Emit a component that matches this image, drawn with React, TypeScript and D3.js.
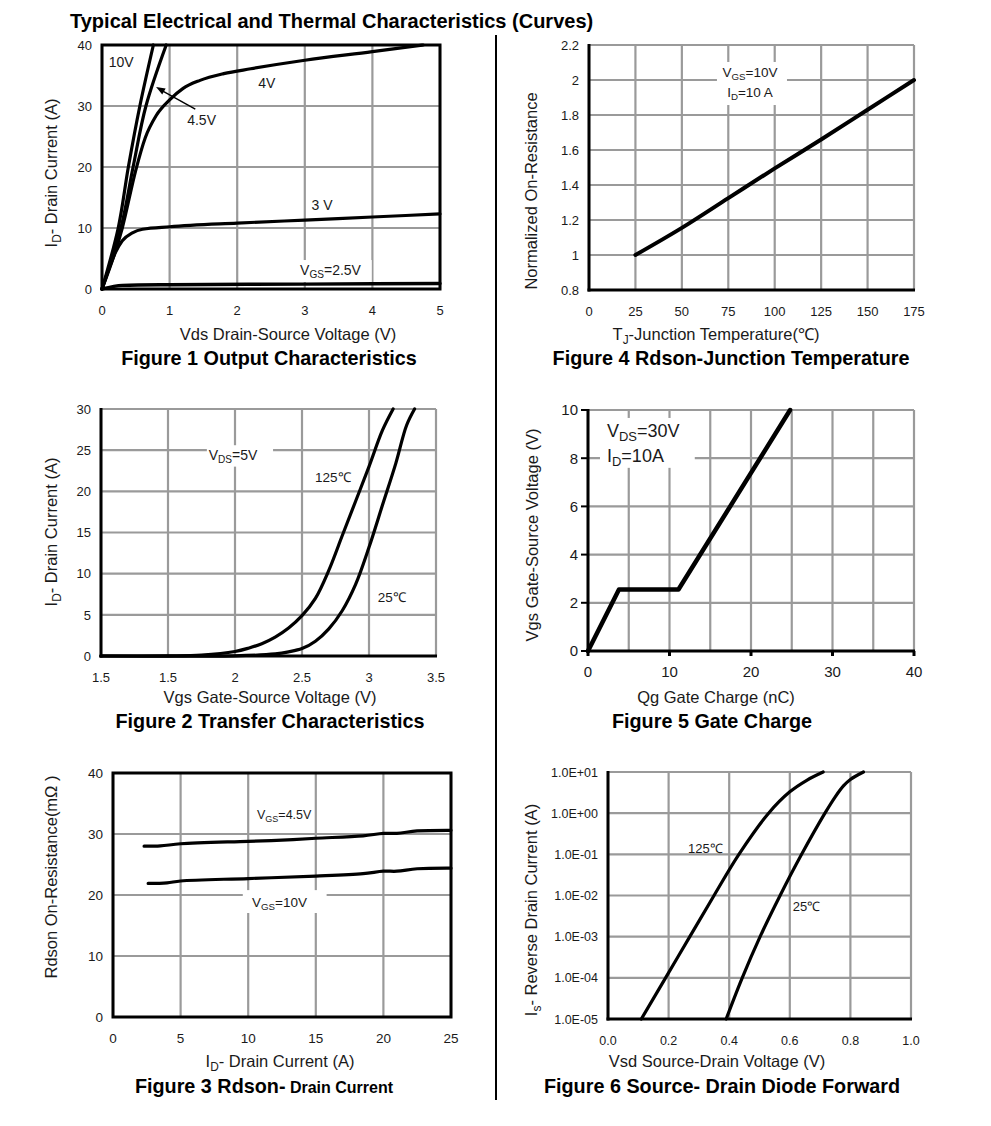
import React from 'react';
import * as d3 from 'd3';

type Pt = [number, number];

// ---------- Figure 1: Output Characteristics ----------
const fig1XTicks = [0, 1, 2, 3, 4, 5];
const fig1YTicks = [0, 10, 20, 30, 40];
const fig1Vgs10: Pt[] = [[0, 0], [0.24, 10], [0.39, 20], [0.56, 30], [0.76, 40]];
const fig1Vgs45: Pt[] = [[0, 0], [0.28, 10], [0.46, 20], [0.65, 30], [0.95, 40]];
const fig1Vgs4: Pt[] = [[0, 0], [0.3, 10], [0.5, 19.5], [0.64, 24.8], [0.8, 28.4], [1.0, 31.0], [1.2, 32.9], [1.45, 34.2], [1.8, 35.3], [2.2, 36.1], [3, 37.5], [4, 38.9], [4.75, 40]];
const fig1Vgs3: Pt[] = [[0, 0], [0.1, 3.2], [0.2, 6], [0.3, 7.9], [0.45, 9.2], [0.6, 9.8], [1, 10.2], [2, 10.8], [3, 11.3], [4, 11.8], [5, 12.3]];
const fig1Vgs25: Pt[] = [[0, 0], [0.3, 0.6], [1, 0.7], [3, 0.8], [5, 0.9]];

// ---------- Figure 4: Rdson vs Junction Temperature ----------
const fig4XTicks = [0, 25, 50, 75, 100, 125, 150, 175];
const fig4YTicks = [0.8, 1.0, 1.2, 1.4, 1.6, 1.8, 2.0, 2.2];
const fig4YLabels = ['0.8', '1', '1.2', '1.4', '1.6', '1.8', '2', '2.2'];
const fig4Rdson: Pt[] = [[25, 1.0], [50, 1.155], [75, 1.325], [100, 1.495], [125, 1.66], [150, 1.83], [175, 2.0]];

// ---------- Figure 2: Transfer Characteristics ----------
const fig2XTicks = [1.0, 1.5, 2.0, 2.5, 3.0, 3.5];
const fig2XLabels = ['1.5', '1.5', '2', '2.5', '3', '3.5'];
const fig2YTicks = [0, 5, 10, 15, 20, 25, 30];
const fig2T125: Pt[] = [[1.0, 0], [1.5, 0.02], [1.75, 0.12], [2.0, 0.55], [2.1, 0.95], [2.2, 1.5], [2.3, 2.3], [2.4, 3.4], [2.5, 4.9], [2.6, 7.0], [2.7, 10.4], [2.8, 14.6], [2.9, 18.8], [3.0, 23.0], [3.1, 27.4], [3.18, 30]];
const fig2T25: Pt[] = [[1.0, 0], [2.0, 0.02], [2.3, 0.25], [2.4, 0.5], [2.5, 0.9], [2.6, 1.8], [2.7, 3.3], [2.8, 5.5], [2.9, 8.7], [3.0, 13.2], [3.1, 18.3], [3.2, 23.4], [3.28, 28.0], [3.34, 30]];

// ---------- Figure 5: Gate Charge ----------
const fig5XGrid = [0, 5, 10, 15, 20, 25, 30, 35, 40];
const fig5XTicks = [0, 10, 20, 30, 40];
const fig5YTicks = [0, 2, 4, 6, 8, 10];
const fig5Vgs: Pt[] = [[0, 0], [3.8, 2.55], [11.1, 2.55], [24.8, 10]];

// ---------- Figure 3: Rdson vs Drain Current ----------
const fig3XTicks = [0, 5, 10, 15, 20, 25];
const fig3YTicks = [0, 10, 20, 30, 40];
const fig3Vgs45: Pt[] = [[2.3, 28], [3.5, 28.05], [5, 28.4], [10, 28.8], [12.5, 29], [15, 29.3], [18.5, 29.7], [20, 30.1], [21, 30.1], [22.5, 30.5], [25, 30.6]];
const fig3Vgs10: Pt[] = [[2.6, 21.9], [4, 22], [5, 22.3], [10, 22.7], [15, 23.1], [18.5, 23.5], [20, 23.9], [21, 23.9], [22.5, 24.3], [25, 24.4]];

// ---------- Figure 6: Source-Drain Diode Forward ----------
const fig6XTicks = [0, 0.2, 0.4, 0.6, 0.8, 1.0];
const fig6XLabels = ['0.0', '0.2', '0.4', '0.6', '0.8', '1.0'];
const fig6YTicks = [1e-5, 1e-4, 1e-3, 1e-2, 1e-1, 1e0, 1e1];
const fig6YLabels = ['1.0E-05', '1.0E-04', '1.0E-03', '1.0E-02', '1.0E-01', '1.0E+00', '1.0E+01'];
const fig6T125: Pt[] = [[0.11, 1e-5], [0.19, 1e-4], [0.27, 1e-3], [0.35, 1e-2], [0.432, 1e-1], [0.53, 1], [0.6, 3.3], [0.656, 6.3], [0.71, 10]];
const fig6T25: Pt[] = [[0.39, 1e-5], [0.443, 1e-4], [0.502, 1e-3], [0.568, 1e-2], [0.639, 1e-1], [0.716, 1], [0.75, 2.5], [0.777, 4.6], [0.8, 6.6], [0.843, 10]];

const FONT = '"Liberation Sans", Arial, Helvetica, sans-serif';
const GRID = '#9a9a9a';
const TXT = '#1a1a1a';

type Part = [string, boolean];

function SubText(props: { x: number; y: number; parts: Part[]; size: number; anchor?: string; weight?: string; transform?: string }) {
  const { x, y, parts, size, anchor = 'start', weight = 'normal', transform } = props;
  let cur = 0;
  return (
    <text x={x} y={y} fontSize={size} textAnchor={anchor} fontWeight={weight} fill={TXT} fontFamily={FONT} transform={transform}>
      {parts.map(([s, sub], i) => {
        const target = sub ? size * 0.22 : 0;
        const dy = target - cur;
        cur = target;
        return (
          <tspan key={i} dy={dy} fontSize={sub ? size * 0.72 : size}>
            {s}
          </tspan>
        );
      })}
    </text>
  );
}

interface Series { data: Pt[]; width: number; curve?: any }

interface PanelProps {
  box: { l: number; t: number; r: number; b: number };
  xDomain: [number, number];
  yDomain: [number, number];
  yLog?: boolean;
  xGrid: number[];
  yGrid: number[];
  xTicks: number[];
  xLabels: string[];
  yTicks: number[];
  yLabels: string[];
  tickSize: number;
  frame: 'all' | 'lb';
  tickMarks?: boolean;
  series: Series[];
  annotate?: (x: any, y: any) => React.ReactNode;
}

const smooth = d3.curveCatmullRom.alpha(0.5);

function Panel(p: PanelProps) {
  const { box } = p;
  const x = d3.scaleLinear().domain(p.xDomain).range([box.l, box.r]);
  const y = (p.yLog ? d3.scaleLog() : d3.scaleLinear()).domain(p.yDomain).range([box.b, box.t]);
  return (
    <g>
      {p.xGrid.map((v, i) => (
        <line key={'gx' + i} x1={x(v)} x2={x(v)} y1={box.t} y2={box.b} stroke={GRID} strokeWidth={2.2} />
      ))}
      {p.yGrid.map((v, i) => (
        <line key={'gy' + i} x1={box.l} x2={box.r} y1={y(v)} y2={y(v)} stroke={GRID} strokeWidth={2.2} />
      ))}
      {p.annotate ? p.annotate(x, y) : null}
      {p.series.map((s, i) => {
        const line = d3
          .line<Pt>()
          .x((d) => x(d[0]))
          .y((d) => y(d[1]))
          .curve(s.curve || smooth);
        return <path key={'s' + i} d={line(s.data) || ''} fill="none" stroke="#000" strokeWidth={s.width} strokeLinejoin="round" strokeLinecap="round" />;
      })}
      {p.frame === 'all' ? (
        <rect x={box.l} y={box.t} width={box.r - box.l} height={box.b - box.t} fill="none" stroke="#000" strokeWidth={3} />
      ) : (
        <g>
          <line x1={box.l} x2={box.l} y1={box.t - 1} y2={box.b + 1.5} stroke="#000" strokeWidth={3} />
          <line x1={box.l - 1.5} x2={box.r + 1} y1={box.b} y2={box.b} stroke="#000" strokeWidth={3} />
        </g>
      )}
      {p.tickMarks ? (
        <g>
          {p.xTicks.map((v, i) => (
            <line key={'tx' + i} x1={x(v)} x2={x(v)} y1={box.b} y2={box.b + 5} stroke="#000" strokeWidth={3} />
          ))}
          {p.yTicks.map((v, i) => (
            <line key={'ty' + i} x1={box.l - 7} x2={box.l} y1={y(v)} y2={y(v)} stroke="#000" strokeWidth={2} />
          ))}
        </g>
      ) : null}
      {p.xTicks.map((v, i) => (
        <text key={'lx' + i} x={x(v)} y={box.b + 25.5} fontSize={p.tickSize} textAnchor="middle" fill={TXT} fontFamily={FONT}>
          {p.xLabels[i]}
        </text>
      ))}
      {p.yTicks.map((v, i) => (
        <text key={'ly' + i} x={box.l - 10} y={y(v) + p.tickSize * 0.36} fontSize={p.tickSize} textAnchor="end" fill={TXT} fontFamily={FONT}>
          {p.yLabels[i]}
        </text>
      ))}
    </g>
  );
}

function WhiteBox(props: { x: any; y: any; x0: number; x1: number; y0: number; y1: number }) {
  const { x, y, x0, x1, y0, y1 } = props;
  const a = x(x0), b = x(x1), c = y(y0), d = y(y1);
  return <rect x={Math.min(a, b)} y={Math.min(c, d)} width={Math.abs(b - a)} height={Math.abs(d - c)} fill="#fff" />;
}

function Label(props: { x: number; y: number; text: string; size: number; anchor?: string }) {
  return (
    <text x={props.x} y={props.y} fontSize={props.size} textAnchor={props.anchor || 'start'} fill={TXT} fontFamily={FONT}>
      {props.text}
    </text>
  );
}

const CAP = 19.8;
const TITLE = 20;
const AX = 16.5;
const TICK = 13;

export default function App() {
  return (
    <svg width={991} height={1126} style={{ position: 'absolute', left: 0, top: 0, background: '#fff' }} fontFamily={FONT}>
      <rect x={0} y={0} width={991} height={1126} fill="#fff" />
      <text x={70} y={28} fontSize={TITLE} fontWeight="bold" fill="#000">
        Typical Electrical and Thermal Characteristics (Curves)
      </text>
      <line x1={496} x2={496} y1={35} y2={1100} stroke="#000" strokeWidth={2} />

      {/* Figure 1 */}
      <Panel
        box={{ l: 102, t: 45, r: 440, b: 289 }}
        xDomain={[0, 5]}
        yDomain={[0, 40]}
        xGrid={fig1XTicks}
        yGrid={fig1YTicks}
        xTicks={fig1XTicks}
        xLabels={fig1XTicks.map(String)}
        yTicks={fig1YTicks}
        yLabels={fig1YTicks.map(String)}
        tickSize={TICK}
        frame="all"
        series={[
          { data: fig1Vgs10, width: 3.2 },
          { data: fig1Vgs45, width: 3.2 },
          { data: fig1Vgs4, width: 3.2, curve: d3.curveMonotoneX },
          { data: fig1Vgs3, width: 3.2, curve: d3.curveMonotoneX },
          { data: fig1Vgs25, width: 3.4, curve: d3.curveMonotoneX },
        ]}
        annotate={(x, y) => (
          <g>
            <Label x={x(0.1)} y={y(36.4)} text="10V" size={14} />
            <Label x={x(2.31)} y={y(33.0)} text="4V" size={14} />
            <Label x={x(1.26)} y={y(26.9)} text="4.5V" size={14} />
            <Label x={x(3.1)} y={y(12.95)} text="3 V" size={14} />
            <WhiteBox x={x} y={y} x0={2.88} x1={3.99} y0={1.15} y1={4.75} />
            <SubText x={x(2.93)} y={y(2.3)} size={14} parts={[['V', false], ['GS', true], ['=2.5V', false]]} />
            <line x1={x(1.38)} y1={y(29.5)} x2={x(0.86)} y2={y(32.7)} stroke="#000" strokeWidth={1.4} />
            <path
              d={(() => {
                const x1 = x(0.8), y1 = y(33.1), x0 = x(1.38), y0 = y(29.5);
                const ang = Math.atan2(y1 - y0, x1 - x0);
                const L = 9, W = 3.5;
                const bx = x1 - L * Math.cos(ang), by = y1 - L * Math.sin(ang);
                return `M${x1},${y1}L${bx + W * Math.sin(ang)},${by - W * Math.cos(ang)}L${bx - W * Math.sin(ang)},${by + W * Math.cos(ang)}Z`;
              })()}
              fill="#000"
            />
          </g>
        )}
      />
      <SubText x={57} y={173} size={AX} anchor="middle" transform="rotate(-90 57 173)" parts={[['I', false], ['D', true], ['- Drain Current (A)', false]]} />
      <text x={288} y={340} fontSize={AX} textAnchor="middle" fill={TXT}>Vds Drain-Source Voltage (V)</text>
      <text x={269} y={365} fontSize={CAP} fontWeight="bold" textAnchor="middle" fill="#000">Figure 1 Output Characteristics</text>

      {/* Figure 4 */}
      <Panel
        box={{ l: 589, t: 45, r: 914, b: 290 }}
        xDomain={[0, 175]}
        yDomain={[0.8, 2.2]}
        xGrid={fig4XTicks}
        yGrid={fig4YTicks}
        xTicks={fig4XTicks}
        xLabels={fig4XTicks.map(String)}
        yTicks={fig4YTicks}
        yLabels={fig4YLabels}
        tickSize={TICK}
        frame="lb"
        series={[{ data: fig4Rdson, width: 4 }]}
        annotate={(x, y) => (
          <g>
            <WhiteBox x={x} y={y} x0={68.9} x1={106.6} y0={1.857} y1={2.103} />
            <SubText x={x(86.7)} y={y(2.017)} size={13.5} anchor="middle" parts={[['V', false], ['GS', true], ['=10V', false]]} />
            <SubText x={x(86.7)} y={y(1.903)} size={13.5} anchor="middle" parts={[['I', false], ['D', true], ['=10 A', false]]} />
          </g>
        )}
      />
      <text x={537} y={191} fontSize={AX} textAnchor="middle" fill={TXT} transform="rotate(-90 537 191)">Normalized On-Resistance</text>
      <SubText x={716} y={340} size={AX} anchor="middle" parts={[['T', false], ['J', true], ['-Junction Temperature(℃)', false]]} />
      <text x={731} y={365} fontSize={CAP} fontWeight="bold" textAnchor="middle" fill="#000">Figure 4 Rdson-Junction Temperature</text>

      {/* Figure 2 */}
      <Panel
        box={{ l: 101, t: 409, r: 436, b: 656 }}
        xDomain={[1.0, 3.5]}
        yDomain={[0, 30]}
        xGrid={fig2XTicks}
        yGrid={fig2YTicks}
        xTicks={fig2XTicks}
        xLabels={fig2XLabels}
        yTicks={fig2YTicks}
        yLabels={fig2YTicks.map(String)}
        tickSize={TICK}
        frame="lb"
        series={[
          { data: fig2T125, width: 3.2 },
          { data: fig2T25, width: 3.2 },
        ]}
        annotate={(x, y) => (
          <g>
            <WhiteBox x={x} y={y} x0={1.79} x1={2.284} y0={23.0} y1={25.6} />
            <SubText x={x(1.985)} y={y(23.8)} size={14} anchor="middle" parts={[['V', false], ['DS', true], ['=5V', false]]} />
            <Label x={x(2.73)} y={y(21.1)} text="125℃" size={13.5} anchor="middle" />
            <Label x={x(3.17)} y={y(6.56)} text="25℃" size={13.5} anchor="middle" />
          </g>
        )}
      />
      <SubText x={57} y={532} size={AX} anchor="middle" transform="rotate(-90 57 532)" parts={[['I', false], ['D', true], ['- Drain Current (A)', false]]} />
      <text x={270} y={703} fontSize={AX} textAnchor="middle" fill={TXT}>Vgs Gate-Source Voltage (V)</text>
      <text x={270} y={728} fontSize={CAP} fontWeight="bold" textAnchor="middle" fill="#000">Figure 2 Transfer Characteristics</text>

      {/* Figure 5 */}
      <Panel
        box={{ l: 588, t: 410, r: 914, b: 651 }}
        xDomain={[0, 40]}
        yDomain={[0, 10]}
        xGrid={fig5XGrid}
        yGrid={fig5YTicks}
        xTicks={fig5XTicks}
        xLabels={fig5XTicks.map(String)}
        yTicks={fig5YTicks}
        yLabels={fig5YTicks.map(String)}
        tickSize={15}
        frame="lb"
        tickMarks
        series={[{ data: fig5Vgs, width: 4.5, curve: d3.curveLinear }]}
        annotate={(x, y) => (
          <g>
            <WhiteBox x={x} y={y} x0={1.47} x1={13.1} y0={7.6} y1={9.67} />
            <SubText x={x(2.33)} y={y(8.88)} size={18} parts={[['V', false], ['DS', true], ['=30V', false]]} />
            <SubText x={x(2.33)} y={y(7.84)} size={18} parts={[['I', false], ['D', true], ['=10A', false]]} />
          </g>
        )}
      />
      <text x={538} y={535} fontSize={AX} textAnchor="middle" fill={TXT} transform="rotate(-90 538 535)">Vgs Gate-Source Voltage (V)</text>
      <text x={716} y={703} fontSize={AX} textAnchor="middle" fill={TXT}>Qg Gate Charge (nC)</text>
      <text x={712} y={728} fontSize={CAP} fontWeight="bold" textAnchor="middle" fill="#000">Figure 5 Gate Charge</text>

      {/* Figure 3 */}
      <Panel
        box={{ l: 113, t: 773, r: 451, b: 1017 }}
        xDomain={[0, 25]}
        yDomain={[0, 40]}
        xGrid={fig3XTicks}
        yGrid={fig3YTicks}
        xTicks={fig3XTicks}
        xLabels={fig3XTicks.map(String)}
        yTicks={fig3YTicks}
        yLabels={fig3YTicks.map(String)}
        tickSize={13.5}
        frame="all"
        series={[
          { data: fig3Vgs45, width: 3.2 },
          { data: fig3Vgs10, width: 3.2 },
        ]}
        annotate={(x, y) => (
          <g>
            <SubText x={x(10.65)} y={y(32.5)} size={12.5} parts={[['V', false], ['GS', true], ['=4.5V', false]]} />
            <WhiteBox x={x} y={y} x0={9.6} x1={15.8} y0={17.05} y1={20.8} />
            <SubText x={x(10.28)} y={y(18.0)} size={13.5} parts={[['V', false], ['GS', true], ['=10V', false]]} />
          </g>
        )}
      />
      <text x={57} y={877} fontSize={AX} textAnchor="middle" fill={TXT} transform="rotate(-90 57 877)">Rdson On-Resistance(mΩ )</text>
      <SubText x={280} y={1067} size={AX} anchor="middle" parts={[['I', false], ['D', true], ['- Drain Current (A)', false]]} />
      <text x={264} y={1093} fontSize={CAP} fontWeight="bold" textAnchor="middle" fill="#000">
        Figure 3 Rdson-<tspan fontSize={16}> Drain Current</tspan>
      </text>

      {/* Figure 6 */}
      <Panel
        box={{ l: 608, t: 772, r: 911, b: 1019 }}
        xDomain={[0, 1.0]}
        yDomain={[1e-5, 10]}
        yLog
        xGrid={fig6XTicks}
        yGrid={fig6YTicks}
        xTicks={fig6XTicks}
        xLabels={fig6XLabels}
        yTicks={fig6YTicks}
        yLabels={fig6YLabels}
        tickSize={12.5}
        frame="lb"
        series={[
          { data: fig6T125, width: 3.2 },
          { data: fig6T25, width: 3.2 },
        ]}
        annotate={(x, y) => (
          <g>
            <Label x={x(0.264)} y={y(0.107)} text="125℃" size={13} />
            <Label x={x(0.61)} y={y(0.0042)} text="25℃" size={13} />
          </g>
        )}
      />
      <SubText x={537} y={910} size={AX} anchor="middle" transform="rotate(-90 537 910)" parts={[['I', false], ['s', true], ['- Reverse Drain Current (A)', false]]} />
      <text x={717} y={1067} fontSize={AX} textAnchor="middle" fill={TXT}>Vsd Source-Drain Voltage (V)</text>
      <text x={722} y={1093} fontSize={CAP} fontWeight="bold" textAnchor="middle" fill="#000">Figure 6 Source- Drain Diode Forward</text>
    </svg>
  );
}
